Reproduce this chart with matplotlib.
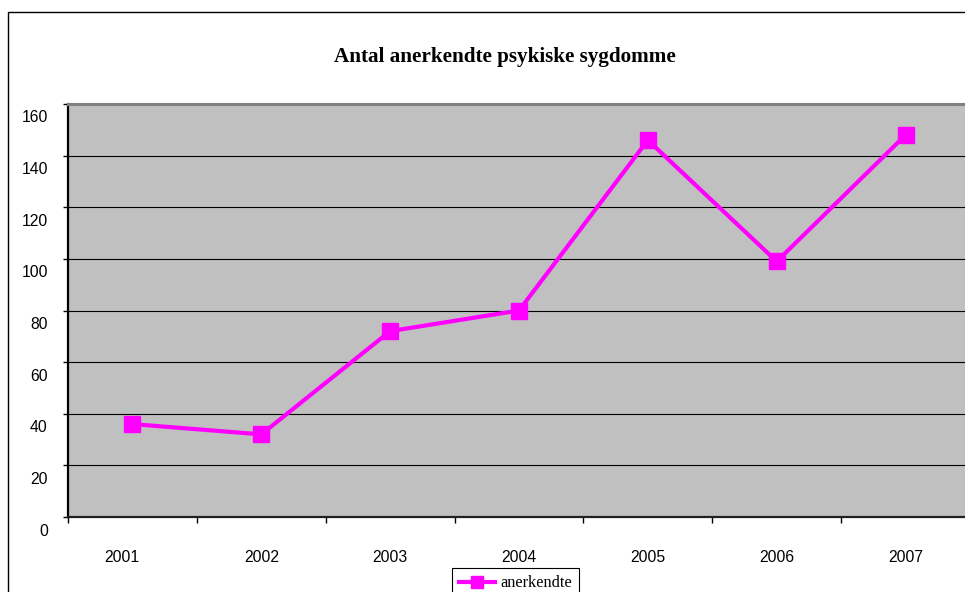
import matplotlib
matplotlib.use("Agg")
import matplotlib.pyplot as plt
from matplotlib.patches import Rectangle
from matplotlib.transforms import ScaledTranslation

# data
years = ["2001", "2002", "2003", "2004", "2005", "2006", "2007"]
anerkendte = [36, 32, 72, 80, 146, 99, 148]
y_ticks = [0, 20, 40, 60, 80, 100, 120, 140, 160]

title = "Antal anerkendte psykiske sygdomme"
series_name = "anerkendte"

W, H = 965, 592
fig = plt.figure(figsize=(W / 100, H / 100), dpi=100)

# outer chart border (runs off the right and bottom edge)
fig.patches.append(Rectangle((8 / W, -0.05), 1.2, 1 - 12 / H + 0.05,
                             transform=fig.transFigure, fill=False,
                             edgecolor="black", linewidth=1.0))

# plot area, right edge a little past the figure
left, right, top, bottom = 68, 970, 104, 517
ax = fig.add_axes([left / W, 1 - bottom / H, (right - left) / W, (bottom - top) / H])
ax.set_facecolor("#c0c0c0")

x = list(range(len(years)))
ax.plot(x, anerkendte, color="#ff00ff", linewidth=3.0, marker="s",
        markersize=11, label=series_name, zorder=3)

ax.set_xlim(-0.5, len(years) - 0.5)
ax.set_ylim(0, 160)

# gridlines
ax.set_yticks(y_ticks)
ax.yaxis.grid(True, color="black", linewidth=0.8)
ax.set_axisbelow(True)

# y tick labels sit a bit below their gridline
ax.set_yticklabels([str(v) for v in y_ticks], fontsize=11.3, family="Liberation Sans")
ax.tick_params(axis="y", direction="out", length=3.5, width=1, pad=11)
off = ScaledTranslation(0, -12.5 / 100, fig.dpi_scale_trans)
for lab in ax.get_yticklabels():
    lab.set_transform(lab.get_transform() + off)

# x ticks at category boundaries, labels at centres
ax.set_xticks([i - 0.5 for i in range(len(years) + 1)])
ax.set_xticklabels([])
ax.set_xticks(x, minor=True)
ax.set_xticklabels(years, minor=True, fontsize=11.3, family="Liberation Sans")
ax.tick_params(axis="x", which="major", direction="out", length=4, width=1)
ax.tick_params(axis="x", which="minor", length=0, pad=24)
xl = ax.get_xticklabels(minor=True)
xl[0].set_transform(xl[0].get_transform() + ScaledTranslation(-11 / 100, 0, fig.dpi_scale_trans))

ax.spines["top"].set_color("#808080")
ax.spines["top"].set_linewidth(2.2)
ax.spines["left"].set_color("black")
ax.spines["left"].set_linewidth(1.6)
ax.spines["bottom"].set_color("#202020")
ax.spines["bottom"].set_linewidth(1.6)
ax.spines["right"].set_visible(False)

fig.text(505 / W, 1 - 57 / H, title, ha="center", va="center",
         fontsize=15.2, fontweight="bold", family="Liberation Serif")

leg = ax.legend(loc="upper left", bbox_to_anchor=(452 / W, 1 - 568 / H),
                bbox_transform=fig.transFigure, frameon=True, fancybox=False,
                edgecolor="black", framealpha=1, borderaxespad=0,
                handlelength=2.2, handletextpad=0.3, borderpad=0.45,
                markerscale=0.8, prop={"family": "Liberation Serif", "size": 11.8})
leg.get_frame().set_linewidth(0.8)

fig.savefig("out.png", dpi=100)
